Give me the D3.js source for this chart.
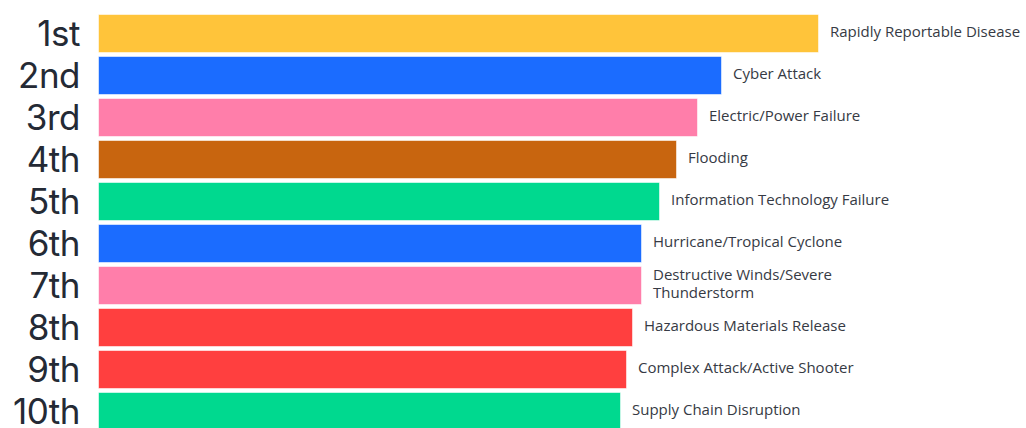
<!DOCTYPE html>
<html><head><meta charset="utf-8">
<script src="https://cdn.jsdelivr.net/npm/d3@7"></script>
<style>html,body{margin:0;padding:0;background:#fff;}svg{display:block;}</style>
</head><body><svg id="c" width="1026" height="428"></svg>
<script>
const ranks = ["1st","2nd","3rd","4th","5th","6th","7th","8th","9th","10th"];
const hazards = ["Rapidly Reportable Disease","Cyber Attack","Electric/Power Failure","Flooding","Information Technology Failure","Hurricane/Tropical Cyclone","Destructive Winds/Severe Thunderstorm","Hazardous Materials Release","Complex Attack/Active Shooter","Supply Chain Disruption"];
const scores = [721,624,600,579,562,544,544,535,529,523];
const colors = ["#FFC43A","#1B6CFF","#FF7EAA","#C8650F","#00D98F","#1B6CFF","#FF7EAA","#FF3F3F","#FF3F3F","#00D98F"];

const svg = d3.select("#c");
const x = d3.scaleLinear().domain([0,721]).range([98,819]);
const y = d3.scaleBand().domain(ranks).range([14,14+42*10-3]).paddingInner(3/42).paddingOuter(0).align(0);

svg.selectAll("rect.bar").data(ranks).join("rect")
  .attr("class","bar")
  .attr("x",x(0)+0.5).attr("y",d=>y(d)+0.5)
  .attr("width",(d,i)=>x(scores[i])-x(0)-1)
  .attr("height",y.bandwidth()-1)
  .attr("fill",(d,i)=>colors[i])
  .attr("stroke","rgba(255,255,255,0.55)").attr("stroke-width",1);

svg.selectAll("text.rank").data(ranks).join("text")
  .attr("class","rank")
  .attr("x",80).attr("y",d=>y(d)+y.bandwidth()/2)
  .attr("dy","0.36em")
  .attr("text-anchor","end")
  .attr("font-family","Inter, Lato, sans-serif")
  .attr("font-weight",400)
  .attr("font-size",35)
  .attr("letter-spacing",-0.5)
  .attr("fill","#242a35")
  .text(d=>d);

const lbl = svg.selectAll("text.lab").data(ranks).join("text")
  .attr("class","lab")
  .attr("font-family","'Open Sans', Lato, sans-serif")
  .attr("font-size",15)
  .attr("fill","#363a44");
lbl.each(function(d,i){
  const t = d3.select(this);
  const xx = x(scores[i]) + 11;
  const words = hazards[i].split(" ");
  const lines = [];
  let cur = [];
  const tmp = t.append("tspan");
  words.forEach(w=>{
    const trial = cur.concat([w]).join(" ");
    tmp.text(trial);
    if (tmp.node().getComputedTextLength() > 250 && cur.length) { lines.push(cur.join(" ")); cur=[w]; }
    else cur.push(w);
  });
  lines.push(cur.join(" "));
  tmp.remove();
  const cy = y(d) + y.bandwidth()/2 - 2;
  const lh = 18;
  lines.forEach((ln,k)=>{
    t.append("tspan").attr("x",xx)
     .attr("y", cy + (k - (lines.length-1)/2)*lh)
     .attr("dy","0.35em").text(ln);
  });
});
</script></body></html>
